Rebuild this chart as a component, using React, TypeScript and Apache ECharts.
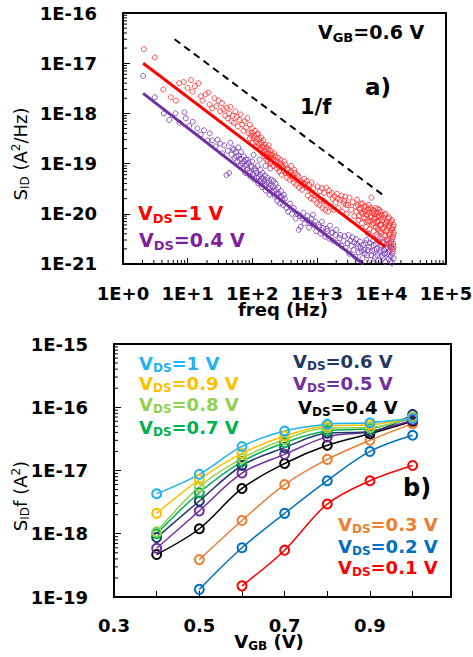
import React, { useEffect, useRef } from 'react';
import * as echarts from 'echarts';

const FONT = 'DejaVu Sans';

// ---------- Panel a) : S_ID vs frequency (VGB = 0.6 V) ----------
const redScatter: [number, number][] = [
  [2.1, 1.9e-17], [3.1, 1.3e-17], [4.2, 3.0e-18], [5.5, 2.1e-18], [6.6, 1.8e-18], [7.4, 4.0e-18], [8.7, 4.2e-18],
  [10, 3.2e-18], [11.3, 4.6e-18], [11.9, 2.7e-18], [13, 3.5e-18], [14.7, 4.0e-18], [16, 2.2e-18], [17, 1.8e-18],
  [19, 2.4e-18], [21, 2.6e-18], [22, 1.5e-18], [24, 1.26e-18], [26, 2.0e-18], [28, 1.4e-18], [30, 1.8e-18],
  [32, 1.1e-18], [34, 1.6e-18], [36, 1.2e-18], [38, 9e-19], [40, 1.3e-18], [42, 8e-19], [44, 1.0e-18],
  [46, 1.35e-18], [48, 7e-19], [50, 9e-19], [52, 6.5e-19], [55, 1.1e-18], [58, 8.5e-19], [60, 5.5e-19],
  [63, 7.5e-19], [66, 9.5e-19], [70, 6e-19], [73, 4.5e-19], [76, 7e-19], [80, 5.2e-19], [84, 8e-19], [88, 4e-19],
  [92, 6e-19], [96, 3.6e-19], [100, 5e-19], [105, 3.2e-19], [110, 4.5e-19], [115, 2.7e-19], [120, 3.8e-19],
  [125, 2.2e-19], [130, 3e-19], [135, 2e-19], [140, 2.6e-19], [145, 1.6e-19], [150, 2.1e-19], [155, 1.4e-19],
  [160, 1.8e-19], [165, 1.2e-19], [170, 1.6e-19], [175, 1.1e-19], [180, 2.3e-19], [185, 1.35e-19], [190, 1.0e-19],
  [195, 1.5e-19], [200, 1.25e-19], [210, 9e-20], [220, 1.6e-19], [230, 1.1e-19], [240, 8e-20], [250, 1.3e-19],
  [260, 7e-20], [270, 1.0e-19], [285, 6e-20], [300, 8.5e-20], [315, 1.1e-19], [330, 6.5e-20], [345, 5.2e-20],
  [360, 7.5e-20], [380, 4.8e-20], [400, 9e-20], [420, 5.8e-20], [440, 4.2e-20], [460, 6.5e-20], [480, 3.8e-20],
  [500, 6e-20], [530, 3.3e-20], [560, 4.5e-20], [590, 3e-20], [620, 3.8e-20], [650, 4e-20], [690, 3.4e-20],
  [730, 2.3e-20], [770, 3e-20], [810, 2e-20], [850, 2.6e-20], [900, 1.9e-20], [950, 2.3e-20], [1000, 1.6e-20],
  [1050, 2.1e-20], [1100, 1.5e-20], [1160, 1.9e-20], [1220, 1.3e-20], [1280, 1.8e-20], [1350, 1.2e-20],
  [1420, 1.6e-20], [1500, 1.1e-20], [1580, 2.4e-20], [1650, 1.4e-20], [1750, 2.0e-20], [1850, 1.2e-20],
  [1950, 1.7e-20], [2050, 2.5e-20], [2150, 1.3e-20], [2300, 1.9e-20], [2450, 1.1e-20], [2600, 1.6e-20],
  [2750, 2.2e-20], [2900, 1.0e-20], [3050, 1.5e-20], [3200, 2.1e-20], [3400, 1.2e-20], [3600, 1.7e-20],
  [3800, 9e-21], [4000, 1.4e-20], [4200, 1.9e-20], [4400, 7.5e-21], [4600, 1.2e-20], [4800, 1.6e-20],
  [5000, 6.5e-21], [5200, 1.0e-20], [5400, 1.35e-20], [5600, 8e-21], [5800, 5.5e-21], [6000, 1.1e-20],
  [6200, 7e-21], [6400, 1.5e-20], [6600, 5e-21], [6800, 9e-21], [7000, 2.1e-20], [7200, 6e-21], [7400, 1.2e-20],
  [7600, 4.5e-21], [7800, 8e-21], [8000, 1.0e-20], [8200, 5.5e-21], [8400, 3.8e-21], [8600, 7e-21],
  [8800, 1.25e-20], [9000, 4.8e-21], [9200, 9e-21], [9400, 3.2e-21], [9600, 6e-21], [9800, 1.1e-20],
  [10000, 4.2e-21], [10300, 7.5e-21], [10600, 2.8e-21], [10900, 5.5e-21], [11200, 9.5e-21], [11500, 3.6e-21],
  [11800, 6.5e-21], [12100, 2.5e-21], [12400, 4.8e-21], [12700, 8e-21], [13000, 3.2e-21], [13300, 5.8e-21],
  [13600, 2.2e-21], [13900, 4.2e-21], [14200, 7e-21], [14500, 2.8e-21], [14800, 5e-21], [15100, 1.8e-21],
  [15300, 3.8e-21], [15500, 6e-21],
];

const redScatterExtra: [number, number][] = [
  [92, 3.2e-19], [98, 4.2e-19], [102, 2.6e-19], [108, 3.6e-19], [112, 2.2e-19], [118, 3.1e-19], [122, 4e-19],
  [128, 2.5e-19], [132, 1.9e-19], [138, 3.3e-19], [142, 2.2e-19], [148, 2.9e-19], [152, 1.75e-19], [158, 2.4e-19],
  [163, 1.55e-19], [168, 2.1e-19], [172, 1.35e-19], [178, 1.9e-19], [183, 1.6e-19], [188, 1.25e-19], [193, 1.8e-19],
  [198, 1.05e-19], [204, 1.5e-19], [215, 1.2e-19], [226, 1.4e-19], [236, 9.5e-20], [248, 1.1e-19], [262, 8.5e-20],
  [275, 1.2e-19], [290, 9e-20], [310, 7e-20], [325, 9.5e-20], [350, 8e-20], [370, 6e-20], [395, 7e-20],
  [430, 5e-20], [450, 7.5e-20], [520, 5.5e-20], [580, 4.2e-20], [640, 5e-20], [700, 4.5e-20], [760, 3.8e-20],
  [830, 4.2e-20], [880, 3.2e-20], [1030, 3.5e-20], [1120, 2.8e-20], [1200, 3.2e-20], [1300, 2.6e-20],
  [1400, 3.3e-20], [1550, 2.9e-20], [1700, 2.6e-20], [1900, 2.2e-20], [2100, 2.0e-20], [2400, 2.3e-20],
  [2650, 1.8e-20], [2850, 1.5e-20], [4100, 1.1e-20], [4300, 1.5e-20], [4500, 9e-21], [4700, 1.3e-20],
  [4900, 1.05e-20], [5100, 1.6e-20], [5300, 8.5e-21], [5500, 1.15e-20], [5700, 1.45e-20], [5900, 9.5e-21],
  [6100, 7.5e-21], [6300, 1.25e-20], [6500, 1.05e-20], [6700, 7e-21], [6900, 1.3e-20], [7100, 8.5e-21],
  [7300, 1.05e-20], [7500, 6.5e-21], [7700, 1.15e-20], [7900, 8.5e-21], [8100, 1.3e-20], [8300, 6.5e-21],
  [8500, 9e-21], [8700, 5e-21], [8900, 1.05e-20], [9100, 7e-21], [9300, 1.2e-20], [9500, 4.5e-21], [9700, 8e-21],
  [9900, 6e-21], [10100, 9.5e-21], [10400, 5e-21], [10700, 8.5e-21], [11000, 3.8e-21], [11300, 6.2e-21],
  [11600, 1.0e-20], [11900, 4.5e-21], [12200, 7e-21], [12500, 3e-21], [12800, 5.5e-21], [13100, 8.5e-21],
  [13400, 3.8e-21], [13700, 6.5e-21], [14000, 2.6e-21], [14300, 4.8e-21], [14600, 7.5e-21], [14900, 3.5e-21],
  [15200, 5.5e-21], [15400, 2.2e-21], [15500, 4.2e-21],
];

const purpleScatter: [number, number][] = [
  [2.05, 5.6e-18], [3.1, 2.1e-18], [4.3, 1.0e-18], [5.2, 7.4e-19], [6.5, 1.0e-18], [7.5, 6.5e-19], [8.9, 1.05e-18],
  [9.4, 8e-19], [10.6, 5.6e-19], [12, 6.8e-19], [14.2, 5e-19], [16, 3.8e-19], [18, 4.6e-19], [20.4, 2.9e-19],
  [22, 4e-19], [24, 2.9e-19], [27, 2.2e-19], [29, 3e-19], [32, 2.5e-19], [34.5, 1.6e-19], [37, 2.3e-19],
  [40, 5.9e-20], [42, 1.8e-19], [44, 6.5e-20], [46, 2.6e-19], [48, 1.5e-19], [50, 2e-19], [53, 1.3e-19],
  [56, 1.7e-19], [59, 1.1e-19], [62, 1.45e-19], [65, 9e-20], [68, 1.25e-19], [72, 8e-20], [75, 1.1e-19],
  [78, 6.5e-20], [82, 9.5e-20], [86, 1.2e-19], [90, 7e-20], [94, 5.5e-20], [98, 8.5e-20], [103, 6.2e-20],
  [105, 1.5e-19], [108, 4.8e-20], [113, 7.2e-20], [118, 5.3e-20], [124, 4e-20], [130, 1.2e-19], [133, 6e-20],
  [136, 4.5e-20], [142, 3.4e-20], [148, 5e-20], [155, 3.8e-20], [160, 9e-20], [162, 2.9e-20], [170, 4.2e-20],
  [178, 3.2e-20], [186, 2.4e-20], [190, 8e-20], [195, 3.6e-20], [205, 2.7e-20], [215, 4.5e-20], [225, 2.2e-20],
  [235, 3e-20], [245, 1.8e-20], [258, 2.5e-20], [270, 1.6e-20], [285, 2.2e-20], [300, 1.5e-20], [320, 2e-20],
  [340, 1.3e-20], [360, 1.1e-20], [385, 1.6e-20], [410, 1.0e-20], [440, 1.3e-20], [470, 8e-21], [500, 1.0e-20],
  [525, 4.8e-21], [560, 5.5e-21], [600, 8e-21], [650, 6.5e-21], [700, 7.5e-21], [760, 5.3e-21], [830, 8e-21],
  [900, 6e-21], [980, 4.5e-21], [1060, 6e-21], [1150, 4e-21], [1250, 5.2e-21], [1350, 3.5e-21], [1450, 4.5e-21],
  [1560, 3.2e-21], [1680, 4.2e-21], [1800, 2.9e-21], [1950, 3.8e-21], [2100, 2.6e-21], [2250, 3.3e-21],
  [2400, 2.3e-21], [2600, 2.9e-21], [2800, 2.1e-21], [3000, 2.6e-21], [3200, 1.6e-21], [3450, 2.3e-21],
  [3700, 1.9e-21], [3950, 1.4e-21], [4200, 2.5e-21], [4500, 1.7e-21], [4800, 2.1e-21], [5100, 1.3e-21],
  [5400, 1.9e-21], [5700, 2.6e-21], [6000, 1.5e-21], [6300, 4e-21], [6400, 2.2e-21], [6800, 1.2e-21],
  [7200, 1.8e-21], [7600, 2.4e-21], [8000, 1.4e-21], [8500, 2e-21], [8800, 3.5e-21], [9000, 1.15e-21],
  [9500, 1.7e-21], [10000, 2.3e-21], [10500, 1.3e-21], [11000, 1.9e-21], [11500, 1.1e-21], [12000, 3e-21],
  [12300, 1.6e-21], [12500, 2.2e-21], [13000, 1.25e-21], [13500, 1.8e-21], [14000, 1.4e-21], [14500, 1.05e-21],
  [14800, 3.2e-21], [15000, 2.0e-21], [15500, 1.3e-21],
];

const purpleScatterExtra: [number, number][] = [
  [52, 1.9e-19], [57, 1.4e-19], [61, 2.1e-19], [64, 1.2e-19], [67, 1.7e-19], [70, 1.0e-19], [74, 1.4e-19],
  [77, 9e-20], [80, 1.2e-19], [84, 7.5e-20], [88, 1.05e-19], [92, 6.5e-20], [96, 9e-20], [100, 1.1e-19],
  [110, 8e-20], [116, 6.5e-20], [121, 9e-20], [127, 5.5e-20], [134, 7.5e-20], [139, 5e-20], [145, 6.5e-20],
  [152, 4.5e-20], [158, 5.8e-20], [165, 3.8e-20], [172, 5.2e-20], [180, 4.6e-20], [188, 3.3e-20], [198, 4.8e-20],
  [210, 3.5e-20], [220, 2.8e-20], [230, 4e-20], [240, 2.5e-20], [252, 3.3e-20], [265, 2.2e-20], [280, 2.8e-20],
  [295, 1.9e-20], [310, 2.4e-20], [550, 9e-21], [620, 1.05e-20], [720, 9e-21], [800, 6.5e-21], [870, 9.5e-21],
  [950, 7e-21], [1100, 5.5e-21], [1200, 7e-21], [1400, 5e-21], [1600, 5.8e-21], [1750, 4.2e-21], [2000, 4.8e-21],
  [2300, 3.8e-21], [2700, 3.6e-21], [3100, 3.8e-21], [3300, 2.9e-21], [3550, 3.4e-21], [3800, 2.7e-21],
  [4050, 3.1e-21], [4350, 2.2e-21], [4650, 2.8e-21], [4950, 1.8e-21], [5250, 2.4e-21], [5550, 1.6e-21],
  [5850, 3e-21], [6150, 1.9e-21], [6600, 2.6e-21], [7000, 1.5e-21], [7400, 2.9e-21], [7800, 1.9e-21],
  [8200, 2.5e-21], [8700, 1.5e-21], [9200, 2.8e-21], [9700, 1.9e-21], [10200, 1.45e-21], [10800, 2.6e-21],
  [11300, 1.6e-21], [11800, 2.1e-21], [12800, 1.7e-21], [13300, 2.5e-21], [13800, 1.15e-21], [14200, 2.2e-21],
  [14700, 1.6e-21], [15200, 2.5e-21],
];

const redFit: [number, number][] = [[2.05, 1.0e-17], [11400, 2.2e-21]];
const purpleFit: [number, number][] = [[2.05, 2.5e-18], [5250, 1.0e-21]];
const oneOverF: [number, number][] = [[6.3, 3.0e-17], [10700, 2.34e-20]];

// ---------- Panel b) : S_ID*f vs VGB ----------
const vgb = [0.4, 0.5, 0.6, 0.7, 0.8, 0.9, 1.0];
const vds01 = [null, null, 1.5e-19, 5.5e-19, 2.95e-18, 6.9e-18, 1.2e-17];
const vds02 = [null, 1.32e-19, 6.0e-19, 2.1e-18, 6.9e-18, 2.0e-17, 3.6e-17];
const vds03 = [null, 3.9e-19, 1.62e-18, 6.0e-18, 1.5e-17, 3.0e-17, 5.5e-17];
const vds04 = [4.7e-19, 1.2e-18, 5.2e-18, 1.29e-17, 2.5e-17, 3.8e-17, 6.0e-17];
const vds05 = [5.9e-19, 2.3e-18, 9.1e-18, 1.8e-17, 3.4e-17, 4.1e-17, 6.3e-17];
const vds06 = [8.7e-19, 3.3e-18, 1.2e-17, 2.3e-17, 3.9e-17, 4.1e-17, 7.7e-17];
const vds07 = [1.0e-18, 4.45e-18, 1.38e-17, 2.75e-17, 4.25e-17, 4.6e-17, 6.8e-17];
const vds08 = [1.07e-18, 5.5e-18, 1.55e-17, 3.1e-17, 4.7e-17, 4.8e-17, 7.0e-17];
const vds09 = [2.1e-18, 7.2e-18, 1.86e-17, 3.5e-17, 5.1e-17, 5.3e-17, 6.9e-17];
const vds10 = [4.3e-18, 8.7e-18, 2.4e-17, 4.2e-17, 5.4e-17, 5.7e-17, 6.7e-17];

const seriesB = [
  { label: '0.1', color: '#ff0000', values: vds01 },
  { label: '0.2', color: '#0070c0', values: vds02 },
  { label: '0.3', color: '#ed7d31', values: vds03 },
  { label: '0.4', color: '#000000', values: vds04 },
  { label: '0.5', color: '#7030a0', values: vds05 },
  { label: '0.6', color: '#1f3864', values: vds06 },
  { label: '0.7', color: '#00b050', values: vds07 },
  { label: '0.8', color: '#92d050', values: vds08 },
  { label: '0.9', color: '#ffc000', values: vds09 },
  { label: '1', color: '#1fb4ee', values: vds10 },
];

// label only exact decades: "1E-16", "1E+0" ...
const expFmt = (v: number) => {
  const l = Math.log10(v);
  const e = Math.round(l);
  if (Math.abs(l - e) > 1e-6) return '';
  return '1E' + (e >= 0 ? '+' : '') + e;
};

function decadeMinors(lo: number, hi: number): number[] {
  const out: number[] = [];
  for (let d = lo; d < hi; d++) {
    for (let k = 2; k <= 9; k++) out.push(k * Math.pow(10, d));
  }
  return out;
}

function minorTicks(axisIdx: number, data: number[][], len: number) {
  return {
    type: 'custom',
    xAxisIndex: axisIdx,
    yAxisIndex: axisIdx,
    silent: true,
    clip: false,
    z: 10,
    data,
    renderItem: (_p: any, api: any) => {
      const pt = api.coord([api.value(0), api.value(1)]);
      const dir = api.value(2);
      const shape = dir === 0
        ? { x1: pt[0], y1: pt[1], x2: pt[0] + len, y2: pt[1] }
        : { x1: pt[0], y1: pt[1], x2: pt[0], y2: pt[1] - len };
      return { type: 'line', shape, style: { stroke: '#000', lineWidth: 1 } };
    },
  };
}

const richSub = (main: number, sub: number, color: string, weight: string = 'bold') => ({
  m: { fontSize: main, fontWeight: weight, fontFamily: FONT, fill: color },
  s: { fontSize: sub, fontWeight: weight, fontFamily: FONT, fill: color, padding: [10, 0, 0, 0] },
  p: { fontSize: sub, fontWeight: weight, fontFamily: FONT, fill: color, padding: [0, 0, 9, 0] },
});

const subText = (x: number, y: number, text: string, main: number, sub: number, color: string, align = 'left') => ({
  type: 'text',
  x,
  y,
  z: 50,
  style: { text, align, verticalAlign: 'middle', rich: richSub(main, sub, color) },
});

export default function App() {
  const ref = useRef<HTMLDivElement>(null);
  useEffect(() => {
    document.body.style.margin = '0';
    const chart = echarts.init(ref.current!, undefined, { renderer: 'svg' });

    const topMinorY = decadeMinors(-21, -16).map((v) => [1, v, 0]);
    const topMinorX = decadeMinors(0, 5).map((v) => [v, 1e-21, 1]);
    const botMinorY = decadeMinors(-19, -15).map((v) => [0.3, v, 0]);

    const axisLabelStyle = { fontSize: 18, fontWeight: 'bold', color: '#000', fontFamily: FONT, showMinLabel: true, showMaxLabel: true };
    const mkAxisLine = () => ({ show: true, onZero: false, lineStyle: { color: '#000', width: 2 } });

    const series: any[] = [
      {
        type: 'scatter', xAxisIndex: 0, yAxisIndex: 0, data: purpleScatter.concat(purpleScatterExtra), symbol: 'circle', symbolSize: 5,
        itemStyle: { color: 'rgba(0,0,0,0)', borderColor: '#7a3db5', borderWidth: 1, opacity: 0.85 },
      },
      {
        type: 'scatter', xAxisIndex: 0, yAxisIndex: 0, data: redScatter.concat(redScatterExtra), symbol: 'circle', symbolSize: 5,
        itemStyle: { color: 'rgba(0,0,0,0)', borderColor: '#ff3030', borderWidth: 1, opacity: 0.85 },
      },
      {
        type: 'line', xAxisIndex: 0, yAxisIndex: 0, data: redFit, symbol: 'none',
        lineStyle: { color: '#ff0000', width: 3 }, z: 4,
      },
      {
        type: 'line', xAxisIndex: 0, yAxisIndex: 0, data: purpleFit, symbol: 'none',
        lineStyle: { color: '#7030a0', width: 3 }, z: 4,
      },
      {
        type: 'line', xAxisIndex: 0, yAxisIndex: 0, data: oneOverF, symbol: 'none',
        lineStyle: { color: '#000', width: 2, type: [7, 5] }, z: 4,
      },
      minorTicks(0, topMinorY, 4),
      minorTicks(0, topMinorX, 4),
      minorTicks(1, botMinorY, 4),
    ];

    seriesB.forEach((s) => {
      series.push({
        type: 'line', xAxisIndex: 1, yAxisIndex: 1, name: s.label,
        data: vgb.map((x, i) => [x, s.values[i] == null ? '-' : s.values[i]]),
        smooth: 0.35, symbol: 'circle', symbolSize: 9, showSymbol: true,
        lineStyle: { color: s.color, width: 1.5 },
        itemStyle: { color: 'rgba(255,255,255,0)', borderColor: s.color, borderWidth: 2 },
      });
    });

    const graphic: any[] = [
      subText(318, 32, '{m|V}{s|GB}{m|=0.6 V}', 19, 13, '#000'),
      { type: 'text', x: 365, y: 87, z: 50, style: { text: 'a)', font: `bold 23px "${FONT}"`, fill: '#000', verticalAlign: 'middle' } },
      { type: 'text', x: 300, y: 107, z: 50, style: { text: '1/f', font: `bold 21px "${FONT}"`, fill: '#000', verticalAlign: 'middle' } },
      subText(138, 213, '{m|V}{s|DS}{m|=1 V}', 19, 13, '#ff0000'),
      subText(139, 240, '{m|V}{s|DS}{m|=0.4 V}', 19, 13, '#7f1f9f'),
      {
        type: 'text', x: 20, y: 154, rotation: Math.PI / 2, z: 50,
        style: {
          text: '{m|S}{s|ID}{m| (A}{p|2}{m|/Hz)}', align: 'center', verticalAlign: 'middle',
          rich: richSub(18, 12, '#000', 'normal'),
        },
      },
      { type: 'text', x: 283, y: 309, z: 50, style: { text: 'freq (Hz)', font: `bold 18px "${FONT}"`, fill: '#000', align: 'center', verticalAlign: 'middle' } },

      subText(139, 363, '{m|V}{s|DS}{m|=1 V}', 18, 12, '#1fb4ee'),
      subText(139, 383, '{m|V}{s|DS}{m|=0.9 V}', 18, 12, '#ffc000'),
      subText(139, 404, '{m|V}{s|DS}{m|=0.8 V}', 18, 12, '#92d050'),
      subText(139, 427, '{m|V}{s|DS}{m|=0.7 V}', 18, 12, '#00b050'),
      subText(293, 361, '{m|V}{s|DS}{m|=0.6 V}', 18, 12, '#1f3864'),
      subText(293, 383, '{m|V}{s|DS}{m|=0.5 V}', 18, 12, '#7030a0'),
      subText(298, 407, '{m|V}{s|DS}{m|=0.4 V}', 18, 12, '#000000'),
      subText(338, 524, '{m|V}{s|DS}{m|=0.3 V}', 18, 12, '#ed7d31'),
      subText(338, 546, '{m|V}{s|DS}{m|=0.2 V}', 18, 12, '#0070c0'),
      subText(338, 567, '{m|V}{s|DS}{m|=0.1 V}', 18, 12, '#ff0000'),
      { type: 'text', x: 403, y: 488, z: 50, style: { text: 'b)', font: `bold 24px "${FONT}"`, fill: '#000', verticalAlign: 'middle' } },
      {
        type: 'text', x: 20, y: 496, rotation: Math.PI / 2, z: 50,
        style: {
          text: '{m|S}{s|ID}{m|f (A}{p|2}{m|)}', align: 'center', verticalAlign: 'middle',
          rich: richSub(18, 12, '#000', 'normal'),
        },
      },
      subText(269, 641, '{m|V}{s|GB}{m| (V)}', 18, 12, '#000', 'center'),
    ];

    chart.setOption({
      animation: false,
      backgroundColor: '#fff',
      textStyle: { fontFamily: FONT },
      grid: [
        { left: 123, top: 13, width: 323, height: 251, show: true, borderColor: '#000', borderWidth: 2, backgroundColor: 'transparent', containLabel: false, outerBoundsMode: 'none' },
        { left: 114, top: 344, width: 337, height: 253, show: true, borderColor: '#000', borderWidth: 2, backgroundColor: 'transparent', containLabel: false, outerBoundsMode: 'none' },
      ],
      xAxis: [
        {
          type: 'log', gridIndex: 0, min: 1, max: 100000, logBase: 10,
          axisLine: mkAxisLine(), axisTick: { inside: true, length: 6, lineStyle: { color: '#000' } },
          axisLabel: { ...axisLabelStyle, formatter: expFmt, margin: 20 },
          splitLine: { show: false },
        },
        {
          type: 'value', gridIndex: 1, min: 0.3, max: 1.09, interval: 0.1,
          axisLine: mkAxisLine(), axisTick: { inside: true, length: 6, lineStyle: { color: '#000' } },
          axisLabel: {
            ...axisLabelStyle, margin: 19, interval: 0,
            formatter: (v: number) => {
              const r = Math.round(v * 10);
              return r % 2 === 1 && r <= 9 && Math.abs(v * 10 - r) < 1e-6 ? (r / 10).toFixed(1) : '';
            },
          },
          splitLine: { show: false },
        },
      ],
      yAxis: [
        {
          type: 'log', gridIndex: 0, min: 9.99e-22, max: 1e-16, logBase: 10,
          axisLine: mkAxisLine(), axisTick: { inside: true, length: 7, lineStyle: { color: '#000' } },
          axisLabel: { ...axisLabelStyle, formatter: expFmt, margin: 26 },
          splitLine: { show: false },
        },
        {
          type: 'log', gridIndex: 1, min: 1e-19, max: 1e-15, logBase: 10,
          axisLine: mkAxisLine(), axisTick: { inside: true, length: 7, lineStyle: { color: '#000' } },
          axisLabel: { ...axisLabelStyle, formatter: expFmt, margin: 26 },
          splitLine: { show: false },
        },
      ],
      series,
      graphic,
    });
    return () => chart.dispose();
  }, []);
  return <div ref={ref} style={{ width: 473, height: 657 }} />;
}
